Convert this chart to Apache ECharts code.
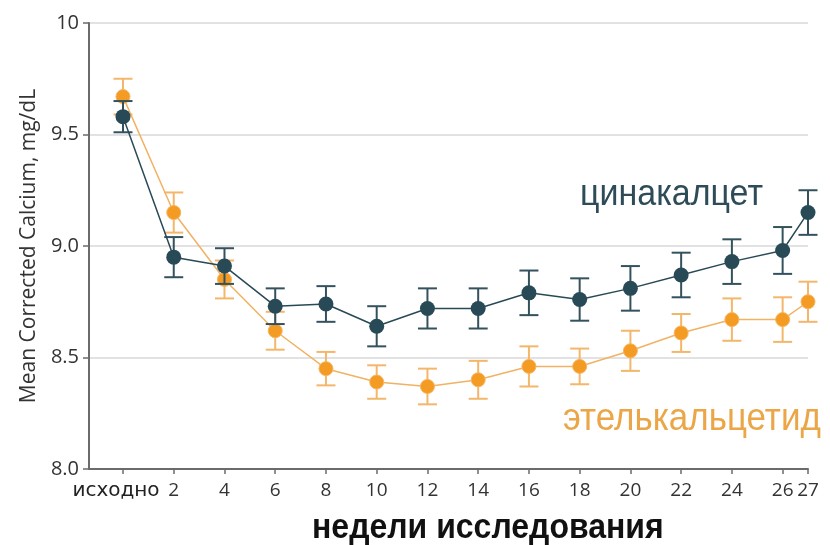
<!DOCTYPE html>
<html>
<head>
<meta charset="utf-8">
<script src="https://cdn.jsdelivr.net/npm/echarts@6/dist/echarts.min.js"></script>
<style>
  html, body { margin: 0; padding: 0; background: #fff; }
  #chart { width: 830px; height: 545px; }
</style>
</head>
<body>
<div id="chart"></div>
<script>
// Study weeks (0 = baseline)
const weeks = [0, 2, 4, 6, 8, 10, 12, 14, 16, 18, 20, 22, 24, 26, 27];
const tickWeeks = [0, 2, 4, 6, 8, 10, 12, 14, 16, 18, 20, 22, 24, 26, 27];
const baselineLabel = 'исходно';

// Mean corrected calcium, mg/dL, with standard error half-widths
const cinacalcet    = [9.58, 8.95, 8.91, 8.73, 8.74, 8.64, 8.72, 8.72, 8.79, 8.76, 8.81, 8.87, 8.93, 8.98, 9.15];
const cinacalcetErr = [0.07, 0.09, 0.08, 0.08, 0.08, 0.09, 0.09, 0.09, 0.10, 0.095, 0.10, 0.10, 0.10, 0.105, 0.10];
const etelcalcetide    = [9.67, 9.15, 8.85, 8.62, 8.45, 8.39, 8.37, 8.40, 8.46, 8.46, 8.53, 8.61, 8.67, 8.67, 8.75];
const etelcalcetideErr = [0.08, 0.09, 0.085, 0.085, 0.075, 0.075, 0.08, 0.085, 0.09, 0.08, 0.09, 0.085, 0.095, 0.10, 0.09];

const TEAL = '#284a57';
const TEAL_BAR = '#34525d';
const ORANGE = '#f39b22';
const ORANGE_BAR = '#f4b66a';
const ORANGE_LINE = '#f1b264';

const pts = (vals) => weeks.map((w, i) => [w, vals[i]]);
const bars = (vals, errs) => weeks.map((w, i) => [w, vals[i] - errs[i], vals[i] + errs[i]]);

// Vertical error bar with horizontal caps, positioned through the axes
function errorBars(color) {
  return function (params, api) {
    const x = api.value(0);
    const top = api.coord([x, api.value(2)]);
    const bot = api.coord([x, api.value(1)]);
    const half = 9.5;
    const style = { stroke: color, lineWidth: 2, fill: null };
    return {
      type: 'group',
      children: [
        { type: 'line', shape: { x1: top[0], y1: top[1], x2: bot[0], y2: bot[1] }, style },
        { type: 'line', shape: { x1: top[0] - half, y1: top[1], x2: top[0] + half, y2: top[1] }, style },
        { type: 'line', shape: { x1: bot[0] - half, y1: bot[1], x2: bot[0] + half, y2: bot[1] }, style }
      ]
    };
  };
}

const chart = echarts.init(document.getElementById('chart'), null, { renderer: 'canvas' });

chart.setOption({
  animation: false,
  backgroundColor: '#ffffff',
  grid: {
    left: 89, right: 22, top: 23, bottom: 76,
    containLabel: false, outerBoundsMode: 'none'
  },
  xAxis: {
    type: 'value',
    min: -1.34,
    max: 27,
    axisLine: { show: true, onZero: false, lineStyle: { color: '#6b6b6b', width: 2 } },
    axisTick: {
      show: true, length: 5, inside: false,
      customValues: tickWeeks,
      lineStyle: { color: '#6b6b6b', width: 1.5 }
    },
    axisLabel: {
      customValues: tickWeeks,
      margin: 12,
      color: '#333',
      fontFamily: 'Open Sans',
      fontSize: 19,
      formatter: (v) => v === 0 ? '{base|' + baselineLabel + '}' : String(v),
      rich: {
        base: { fontFamily: 'DejaVu Sans', fontSize: 20, color: '#222', padding: [0, 14, 0, 0] }
      }
    },
    splitLine: { show: false }
  },
  yAxis: {
    type: 'value',
    min: 8,
    max: 10,
    interval: 0.5,
    name: 'Mean Corrected Calcium, mg/dL',
    nameLocation: 'middle',
    nameRotate: 90,
    nameGap: 49,
    nameTextStyle: { fontFamily: 'Open Sans', fontSize: 21, color: '#333' },
    axisLine: { show: true, onZero: false, lineStyle: { color: '#6b6b6b', width: 2 } },
    axisTick: { show: true, length: 6, lineStyle: { color: '#6b6b6b', width: 1.5 } },
    axisLabel: {
      color: '#333',
      fontFamily: 'Open Sans',
      fontSize: 20,
      margin: 10,
      formatter: (v) => (v === 10 ? '10' : v.toFixed(1))
    },
    splitLine: { show: true, lineStyle: { color: '#e2e2e2', width: 2 } }
  },
  series: [
    {
      name: 'этелькальцетид-err',
      type: 'custom',
      renderItem: errorBars(ORANGE_BAR),
      data: bars(etelcalcetide, etelcalcetideErr),
      encode: { x: 0, y: [1, 2] },
      z: 2
    },
    {
      name: 'этелькальцетид',
      type: 'line',
      data: pts(etelcalcetide),
      symbol: 'circle',
      symbolSize: 14,
      lineStyle: { color: ORANGE_LINE, width: 1.5 },
      itemStyle: { color: ORANGE, borderColor: '#f6b561', borderWidth: 1 },
      z: 3
    },
    {
      name: 'цинакалцет-err',
      type: 'custom',
      renderItem: errorBars(TEAL_BAR),
      data: bars(cinacalcet, cinacalcetErr),
      encode: { x: 0, y: [1, 2] },
      z: 4
    },
    {
      name: 'цинакалцет',
      type: 'line',
      data: pts(cinacalcet),
      symbol: 'circle',
      symbolSize: 15,
      lineStyle: { color: TEAL, width: 1.5 },
      itemStyle: { color: TEAL },
      z: 5
    }
  ],
  graphic: [
    {
      type: 'text', x: 580, y: 176, scaleY: 1.1,
      style: { text: 'цинакалцет', font: '34px "Liberation Sans"', fill: '#2e4c58' }
    },
    {
      type: 'text', x: 563, y: 400, scaleY: 1.1,
      style: { text: 'этелькальцетид', font: '35px "Liberation Sans"', fill: '#eaa647' }
    },
    {
      type: 'text', x: 312, y: 511, scaleY: 1.1,
      style: { text: 'недели исследования', font: 'bold 32px "Liberation Sans"', fill: '#111' }
    }
  ]
});
</script>
</body>
</html>
